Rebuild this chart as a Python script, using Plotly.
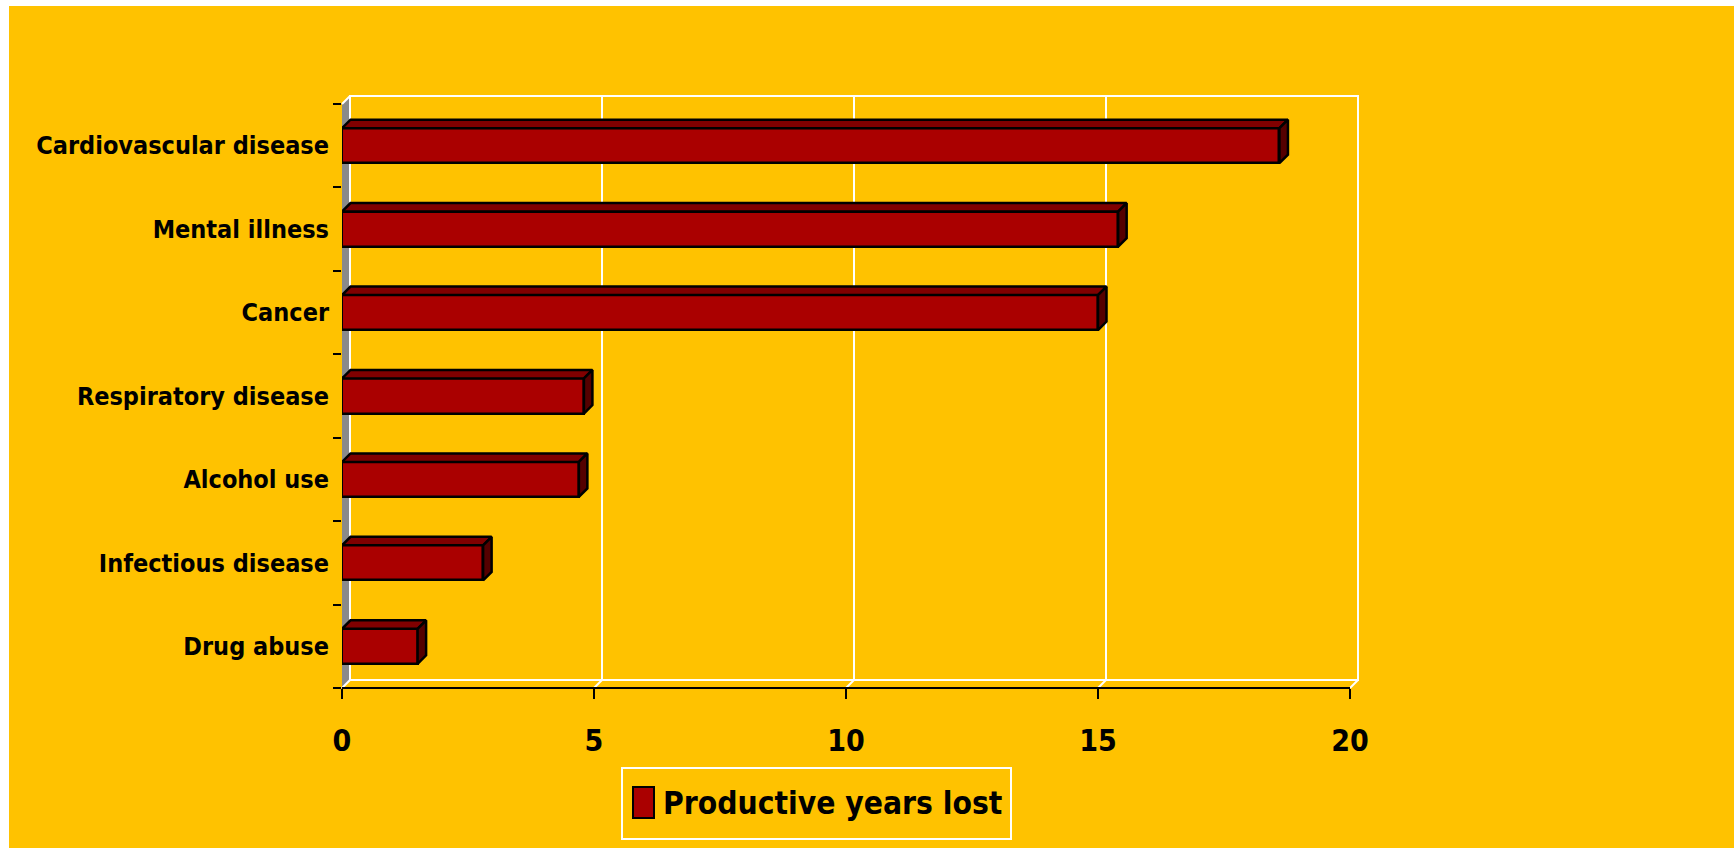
import plotly.graph_objects as go

# ---- data -------------------------------------------------------------
categories = [
    "Cardiovascular disease",
    "Mental illness",
    "Cancer",
    "Respiratory disease",
    "Alcohol use",
    "Infectious disease",
    "Drug abuse",
]
years_lost = [18.6, 15.4, 15.0, 4.8, 4.7, 2.8, 1.5]
x_tick_values = [0, 5, 10, 15, 20]
series_name = "Productive years lost"

# ---- styling ----------------------------------------------------------
BG = "#FFC200"
FRONT = "#AA0000"
TOP = "#800000"
SIDE = "#550000"
WALL_GREY = "#8A8A8A"
FONT = "Liberation Sans Narrow, Arial Narrow, DejaVu Sans Condensed, Liberation Sans, Arial, sans-serif"

W, H = 1734, 848
L, T = 342, 96            # plot area left / top (px)
PR, PB = 1358, 688        # plot area right / bottom (px)
plot_w, plot_h = PR - L, PB - T

X_MAX = 20
px_per_x = 50.4                     # pixels per unit on the value axis
x_range = [0, plot_w / px_per_x]
n = len(categories)
wall_depth = 8                      # px, depth of the 3-D box
bar_depth = 8.5                     # px, depth of each bar
px_per_cat = (PB - T - wall_depth) / n
y_range = [-0.5, n - 0.5 + wall_depth / px_per_cat]

positions = [n - 1 - i for i in range(n)]   # first category on top
half = 0.21                                 # half bar thickness (category units)
dx = bar_depth / px_per_x
dy = bar_depth / px_per_cat


def px_x(px):
    return (px - L) / plot_w


def px_y(py):
    return (PB - py) / plot_h


def dx_paper(v):
    return (v - x_range[0]) / (x_range[1] - x_range[0])


def dy_paper(v):
    return (v - y_range[0]) / (y_range[1] - y_range[0])


fig = go.Figure()

# front faces of the bars
fig.add_trace(go.Bar(
    x=years_lost, y=positions, orientation="h", width=2 * half,
    marker=dict(color=FRONT, line=dict(color="black", width=2.5)),
    showlegend=False, hoverinfo="x+text", text=categories, textposition="none",
))

# top and side faces, built from the same values
top_x, top_y, side_x, side_y = [], [], [], []
for v, y in zip(years_lost, positions):
    yt = y + half
    top_x += [0, v, v + dx, dx, 0, None]
    top_y += [yt, yt, yt + dy, yt + dy, yt, None]
    side_x += [v, v + dx, v + dx, v, v, None]
    side_y += [y - half, y - half + dy, yt + dy, yt, y - half, None]

fig.add_trace(go.Scatter(x=top_x, y=top_y, mode="lines", fill="toself",
                         fillcolor=TOP, line=dict(color="black", width=2.5),
                         showlegend=False, hoverinfo="skip"))
fig.add_trace(go.Scatter(x=side_x, y=side_y, mode="lines", fill="toself",
                         fillcolor=SIDE, line=dict(color="black", width=2.5),
                         showlegend=False, hoverinfo="skip"))

shapes = []
# white frame strips at the top and left of the page
shapes.append(dict(type="rect", xref="paper", yref="paper", layer="below",
                   x0=px_x(0), x1=px_x(W), y0=px_y(6), y1=px_y(0),
                   fillcolor="white", line=dict(width=0)))
shapes.append(dict(type="rect", xref="paper", yref="paper", layer="below",
                   x0=px_x(0), x1=px_x(9), y0=px_y(H), y1=px_y(0),
                   fillcolor="white", line=dict(width=0)))

wx = wall_depth / px_per_x
wy = wall_depth / px_per_cat
y_lo, y_hi = -0.5, n - 0.5

# grey side wall
shapes.append(dict(
    type="path", xref="paper", yref="paper", layer="below",
    path=(f"M{dx_paper(0)},{dy_paper(y_lo)} L{dx_paper(0)},{dy_paper(y_hi)} "
          f"L{dx_paper(wx)},{dy_paper(y_hi + wy)} L{dx_paper(wx)},{dy_paper(y_lo + wy)} Z"),
    fillcolor=WALL_GREY, line=dict(width=0)))
shapes.append(dict(type="line", xref="paper", yref="paper", layer="below",
                   x0=dx_paper(0), x1=dx_paper(wx),
                   y0=dy_paper(y_hi), y1=dy_paper(y_hi + wy),
                   line=dict(color="white", width=2)))

# back wall outline and gridlines
shapes.append(dict(type="rect", xref="paper", yref="paper", layer="below",
                   x0=dx_paper(wx), x1=dx_paper(X_MAX + wx),
                   y0=dy_paper(y_lo + wy), y1=dy_paper(y_hi + wy),
                   line=dict(color="white", width=2)))
for t in x_tick_values:
    shapes.append(dict(type="line", xref="paper", yref="paper", layer="below",
                       x0=dx_paper(t + wx), x1=dx_paper(t + wx),
                       y0=dy_paper(y_lo + wy), y1=dy_paper(y_hi + wy),
                       line=dict(color="white", width=2)))
    # floor edge from the axis back to the wall
    shapes.append(dict(type="line", xref="paper", yref="paper", layer="below",
                       x0=dx_paper(t), x1=dx_paper(t + wx),
                       y0=dy_paper(y_lo), y1=dy_paper(y_lo + wy),
                       line=dict(color="white", width=2)))

# value axis line
shapes.append(dict(type="line", xref="paper", yref="paper", layer="above",
                   x0=dx_paper(0), x1=dx_paper(X_MAX),
                   y0=dy_paper(y_lo), y1=dy_paper(y_lo),
                   line=dict(color="black", width=2)))

# legend box
shapes.append(dict(type="rect", xref="paper", yref="paper",
                   x0=px_x(622), x1=px_x(1011), y0=px_y(839), y1=px_y(768),
                   line=dict(color="white", width=2)))
shapes.append(dict(type="rect", xref="paper", yref="paper",
                   x0=px_x(633), x1=px_x(654), y0=px_y(818), y1=px_y(787),
                   fillcolor=FRONT, line=dict(color="black", width=2)))

annotations = [dict(
    xref="paper", yref="paper", x=px_x(661), y=px_y(803),
    xanchor="left", yanchor="middle", showarrow=False, text=series_name,
    font=dict(family=FONT, size=31.5, color="black", weight="bold"))]

fig.update_layout(
    template="none",
    width=W, height=H,
    margin=dict(l=L, r=W - PR, t=T, b=H - PB, pad=0, autoexpand=False),
    paper_bgcolor=BG, plot_bgcolor="rgba(0,0,0,0)",
    shapes=shapes, annotations=annotations,
    showlegend=False, bargap=0,
    xaxis=dict(
        range=x_range, tickvals=x_tick_values, ticktext=[str(t) for t in x_tick_values],
        showgrid=False, zeroline=False, showline=False, automargin=False,
        ticks="outside", ticklen=10, tickwidth=2, tickcolor="black",
        ticklabelstandoff=16,
        tickfont=dict(family=FONT, size=30, color="black", weight="bold"),
    ),
    yaxis=dict(
        range=y_range, tickvals=positions, ticktext=categories,
        showgrid=False, zeroline=False, showline=False, automargin=False,
        ticks="", ticklabelstandoff=12,
        tickfont=dict(family=FONT, size=25, color="black", weight="bold"),
        minor=dict(tickvals=[p - 0.5 for p in range(n + 1)], ticks="outside",
                   ticklen=8, tickwidth=2, tickcolor="black", showgrid=False),
    ),
)

fig.write_html("out.html")
